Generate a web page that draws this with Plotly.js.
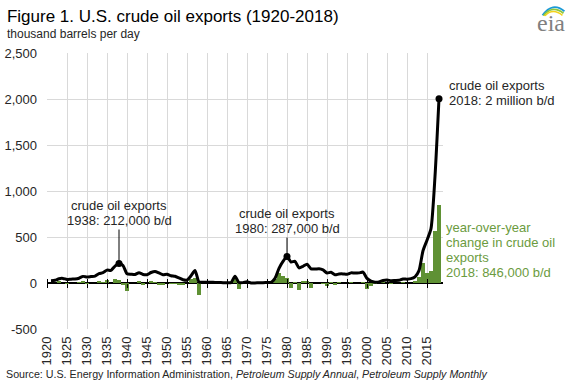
<!DOCTYPE html>
<html><head><meta charset="utf-8">
<script src="https://cdn.plot.ly/plotly-3.0.1.min.js"></script>
<style>html,body{margin:0;padding:0;background:#fff;}#chart{width:576px;height:384px;}</style>
</head><body><div id="chart"></div>
<script>
// ---------- data (thousand barrels per day) ----------
const years = [1921,1922,1923,1924,1925,1926,1927,1928,1929,1930,1931,1932,1933,1934,1935,1936,1937,1938,1939,1940,
  1941,1942,1943,1944,1945,1946,1947,1948,1949,1950,1951,1952,1953,1954,1955,1956,1957,1958,1959,1960,
  1961,1962,1963,1964,1965,1966,1967,1968,1969,1970,1971,1972,1973,1974,1975,1976,1977,1978,1979,1980,
  1981,1982,1983,1984,1985,1986,1987,1988,1989,1990,1991,1992,1993,1994,1995,1996,1997,1998,1999,2000,
  2001,2002,2003,2004,2005,2006,2007,2008,2009,2010,2011,2012,2013,2014,2015,2016,2017,2018];
const crudeExports = [25,29,47,50,38,42,43,52,72,65,70,75,101,112,140,137,184,212,190,100,
  95,92,112,93,90,114,126,109,90,95,79,73,55,36,32,78,137,11,7,8,
  9,5,5,4,3,4,73,5,4,14,1,1,2,3,6,8,50,158,235,287,
  228,236,164,181,204,154,151,155,142,109,116,89,98,99,95,110,108,110,118,50,
  20,9,12,27,32,25,27,29,44,42,47,67,134,351,465,591,1158,2004];
const yoyChange = [1,4,18,3,-12,4,1,9,20,-7,5,5,26,11,28,-3,47,28,-22,-90,
  -5,-3,20,-19,-3,24,12,-17,-19,5,-16,-6,-18,-19,-4,46,59,-126,-4,1,
  1,-4,0,-1,-1,1,69,-68,-1,10,-13,0,1,1,3,2,42,108,77,52,
  -59,8,-72,17,23,-50,-3,4,-13,-33,7,-27,9,1,-4,15,-2,2,8,-68,
  -30,-11,3,15,5,-7,2,2,15,-2,5,20,67,217,114,126,567,846];
const tickYears = [1920,1925,1930,1935,1940,1945,1950,1955,1960,1965,1970,1975,1980,1985,1990,1995,2000,2005,2010,2015];
const tickLabels = ['1920','1925','1930','1935','1940','1945','1950','1955','1960','1965','1970','1975','1980','1985','1990','1995','2000','2005','2010','2015'];
const yTickVals = [-500,0,500,1000,1500,2000,2500];
const yTickText = ['-500','0','500','1,000','1,500','2,000','2,500'];
const calloutYears = [1938,1980,2018];

// ---------- styles ----------
const FONT = 'Liberation Sans, Arial, sans-serif';
const TXT = '#262626';
const GREEN_BAR = '#5f9134';
const GREEN_TXT = '#6b9b40';
const xRange = [1920, 2019];
const yRange = [-500, 2500];
const zeroPos = (0 - yRange[0]) / (yRange[1] - yRange[0]);
const valueAt = yr => crudeExports[years.indexOf(yr)];

const traces = [
  {type:'bar', x:years, y:yoyChange, marker:{color:GREEN_BAR, line:{width:0}}, hoverinfo:'skip'},
  {type:'scatter', mode:'lines', x:years, y:crudeExports,
   line:{color:'#000', width:3, shape:'spline', smoothing:0.6}, hoverinfo:'skip'},
  {type:'scatter', mode:'markers', x:calloutYears, y:calloutYears.map(valueAt),
   marker:{color:'#000', size:7}, hoverinfo:'skip'},
  {type:'scatter', x:[], y:[], xaxis:'x2', hoverinfo:'skip'},
  {type:'scatter', x:[], y:[], xaxis:'x3', hoverinfo:'skip'}
];

const f13 = {family:FONT, size:13, color:TXT};
const fG = {family:FONT, size:13, color:GREEN_TXT};
const LS = 15;
const annotations = [];
function callout(yr, lines, ay) {
  annotations.push({x:yr, y:valueAt(yr), xref:'x', yref:'y', text:lines[1], showarrow:true,
    arrowhead:0, arrowwidth:1, arrowcolor:'#000', ax:0, ay:ay, xanchor:'center', yanchor:'bottom', font:f13});
  annotations.push({x:yr, y:valueAt(yr), xref:'x', yref:'y', text:lines[0], showarrow:false,
    xanchor:'center', yanchor:'bottom', yshift:-ay + LS, font:f13});
}
callout(1938, ['crude oil exports','1938: 212,000 b/d'], -34);
callout(1980, ['crude oil exports','1980: 287,000 b/d'], -19);
['crude oil exports','2018: 2 million b/d'].forEach((t,i,arr) => {
  annotations.push({x:2018, y:valueAt(2018), xref:'x', yref:'y', text:t, showarrow:false,
    xanchor:'left', yanchor:'middle', xshift:8, yshift:-2 + (arr.length-1-i)*LS, font:f13});
});
['year-over-year','change in crude oil','exports','2018: 846,000 b/d'].forEach((t,i,arr) => {
  annotations.push({x:2018, y:0, xref:'x', yref:'y', text:t, showarrow:false,
    xanchor:'left', yanchor:'middle', xshift:5, yshift:11 + (arr.length-1-i)*LS, font:fG});
});
annotations.push({xref:'paper', yref:'paper', x:-0.106, y:1.068, xanchor:'left', yanchor:'middle',
  text:'thousand barrels per day', showarrow:false, font:{family:FONT, size:12, color:TXT}});
annotations.push({xref:'paper', yref:'paper', x:-0.108, y:-0.164, xanchor:'left', yanchor:'middle',
  text:'Source: U.S. Energy Information Administration, <i>Petroleum Supply Annual</i>, <i>Petroleum Supply Monthly</i>',
  showarrow:false, font:{family:FONT, size:10.7, color:TXT}});
annotations.push({xref:'paper', yref:'paper', x:1.2725, y:1.11, xanchor:'center', yanchor:'middle',
  text:'eia', showarrow:false, font:{family:'Liberation Serif, serif', size:24, color:'#808080'}});

const logoSvg = "<svg xmlns='http://www.w3.org/2000/svg' viewBox='0 0 28 14'>" +
  "<path d='M3 13 Q13 -1 25 9' fill='none' stroke='%231b9ad6' stroke-width='1.8'/>" +
  "<path d='M4 13.5 Q13 2 24 11' fill='none' stroke='%238cc63f' stroke-width='1.8'/>" +
  "<path d='M5 14 Q13 5 23 13' fill='none' stroke='%23f2d31b' stroke-width='1.6'/></svg>";

const tickAxis = side => ({overlaying:'x', anchor:'free', position:zeroPos, side:side, range:xRange,
  tickmode:'array', tickvals:tickYears, showticklabels:false, ticks:'outside', ticklen:4,
  tickcolor:'#000', tickwidth:1, showgrid:false, zeroline:false, showline:false});

const layout = {
  width:576, height:384, paper_bgcolor:'#fff', plot_bgcolor:'#fff',
  margin:{l:47, r:133, t:53, b:55}, showlegend:false, bargap:0,
  title:{text:'Figure 1. U.S. crude oil exports (1920-2018)', font:{family:FONT, size:17, color:'#000'},
    xref:'container', x:0.012, xanchor:'left', yref:'container', y:0.958, yanchor:'middle'},
  xaxis:{range:xRange, tickmode:'array', tickvals:tickYears, ticktext:tickLabels, tickangle:-90,
    showgrid:true, gridcolor:'#d9d9d9', gridwidth:1, zeroline:false, showline:false, ticks:'',
    ticklabelstandoff:4, tickfont:{family:FONT, size:13, color:TXT}},
  xaxis2:tickAxis('bottom'),
  xaxis3:tickAxis('top'),
  yaxis:{range:yRange, tickmode:'array', tickvals:yTickVals, ticktext:yTickText,
    showgrid:true, gridcolor:'#d9d9d9', gridwidth:1, zeroline:true, zerolinecolor:'#000', zerolinewidth:1.5,
    ticks:'', showline:false, ticklabelstandoff:9, tickfont:{family:FONT, size:13, color:TXT}},
  annotations:annotations,
  images:[{source:'data:image/svg+xml;utf8,' + logoSvg, xref:'paper', yref:'paper',
    x:1.2437, y:1.1837, sizex:0.0706, sizey:0.0507, xanchor:'left', yanchor:'top', sizing:'stretch', layer:'above'}]
};

Plotly.newPlot('chart', traces, layout, {displayModeBar:false, staticPlot:true});
</script></body></html>
